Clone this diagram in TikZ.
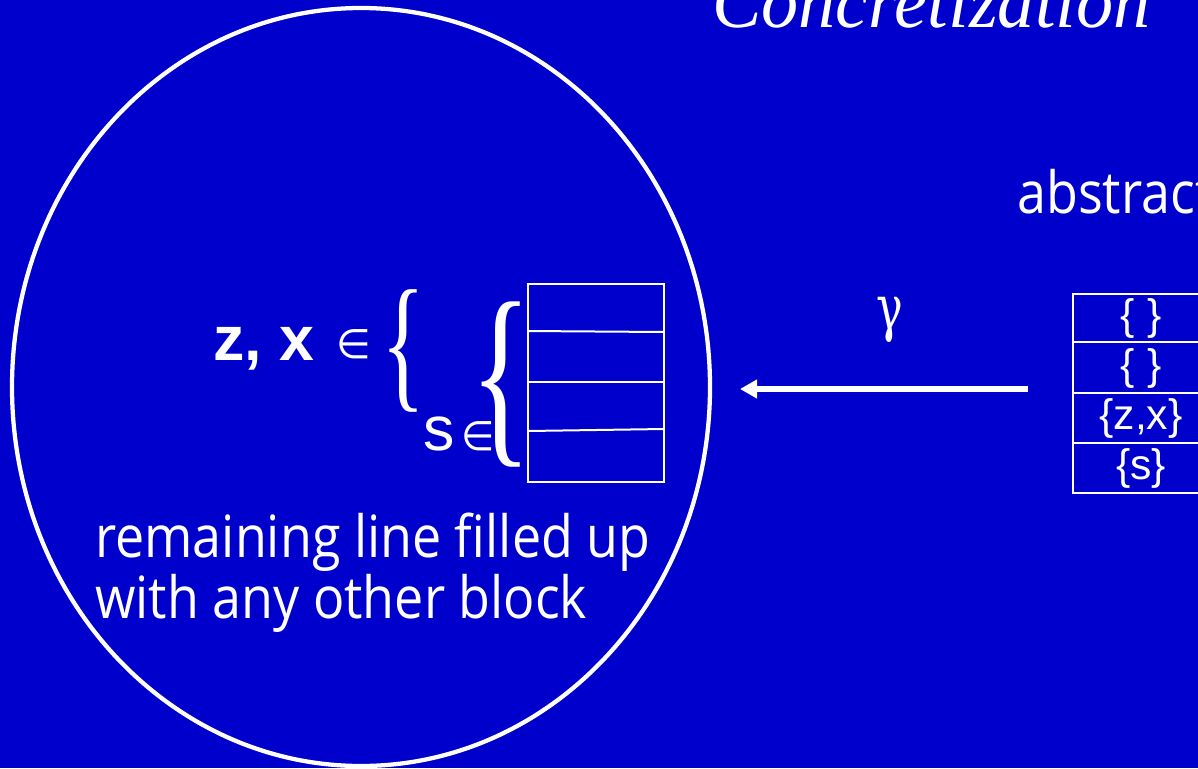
\documentclass[tikz,border=0pt]{standalone}
\usepackage{fontspec}
\usepackage{graphicx}
\usetikzlibrary{arrows.meta}
\newfontfamily\comicf{Open Sans}
\newfontfamily\arialf{Liberation Sans}
\newfontfamily\serff{Liberation Serif}
\newfontfamily\dserff{DejaVu Serif}
\newfontfamily\dejaf{DejaVu Sans}
\definecolor{bgblue}{RGB}{0,0,204}
\newcommand\comictxt[1]{\scalebox{1}[1.12]{\comicf\fontsize{39pt}{39pt}\selectfont #1}}
\begin{document}
\begin{tikzpicture}[x=0.75pt,y=-0.75pt,
  txt/.style={inner sep=0pt,text=white},
  tbl/.style={draw=white,line width=1.5pt},
  ring/.style={draw=white,line width=3.2pt},
  arr/.style={draw=white,line width=4.5pt,-{Triangle[length=12.75pt,width=13.5pt]}}]
\fill[bgblue] (0,0) rectangle (1198,768);
\useasboundingbox (0,0) rectangle (1198,768);
\clip (0,0) rectangle (1198,768);
% title
\node[txt,anchor=base west] (title) at (712,27) {\resizebox{328.5pt}{38pt}{\serff\itshape Concretization}};
% abstract label
\node[txt,anchor=base west] (abs) at (1017,213) {\comictxt{abstract}};
% concrete set
\draw[ring] (361,387) ellipse [x radius=261.75pt, y radius=284.25pt];
\node[txt,anchor=base west] (zx) at (213,360) {\arialf\bfseries\fontsize{47pt}{47pt}\selectfont z, x};
\node[txt] (in1) at (354,344) {\resizebox*{26pt}{22pt}{\dejaf ∈}};
\node[txt] (br1) at (404,351) {\resizebox*{33pt}{92pt}{\serff\{}};
\node[txt,anchor=base west] (s) at (423,450) {\arialf\fontsize{47pt}{47pt}\selectfont s};
\node[txt] (in2) at (478,436) {\resizebox*{25pt}{22pt}{\dejaf ∈}};
\node[txt] (br2) at (501,385) {\resizebox*{46pt}{124pt}{\serff\{}};
\draw[tbl] (528,284) rectangle (664,482);
\draw[tbl] (528,331) -- (664,332);
\draw[tbl] (528,382) -- (664,382);
\draw[tbl] (528,431) -- (664,429);
\node[txt,anchor=base west] (rem1) at (95,557) {\comictxt{remaining line filled up}};
\node[txt,anchor=base west] (rem2) at (95,618) {\comictxt{with any other block}};
% gamma arrow
\node[txt] (gamma) at (890,320) {\resizebox*{20pt}{34pt}{\dserff γ}};
\coordinate (arrS) at (1028,389);
\coordinate (arrE) at (740,389);
\draw[arr] (arrS) -- (arrE);
% abstract table
\draw[tbl] (1073,294) rectangle (1215,493);
\draw[tbl] (1073,342) -- (1215,342);
\draw[tbl] (1073,393) -- (1215,393);
\draw[tbl] (1073,443) -- (1215,443);
\node[txt] (r1) at (1141,318) {\arialf\fontsize{32pt}{32pt}\selectfont \{\hspace{10pt}\}};
\node[txt] (r2) at (1141,368) {\arialf\fontsize{32pt}{32pt}\selectfont \{\hspace{10pt}\}};
\node[txt] (r3) at (1141,418) {\arialf\fontsize{32pt}{32pt}\selectfont \{z,x\}};
\node[txt] (r4) at (1141,468) {\arialf\fontsize{32pt}{32pt}\selectfont \{s\}};
\end{tikzpicture}
\end{document}
